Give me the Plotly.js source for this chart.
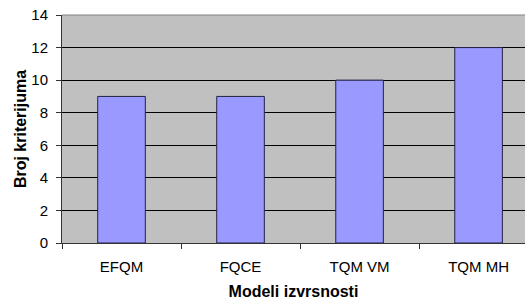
<!DOCTYPE html>
<html>
<head>
<meta charset="utf-8">
<script src="https://cdn.plot.ly/plotly-3.0.1.min.js"></script>
<style>html,body{margin:0;padding:0;background:#fff;overflow:hidden}</style>
</head>
<body>
<div id="chart" style="width:525px;height:300px"></div>
<script>
const categories = ["EFQM", "FQCE", "TQM VM", "TQM MH"];
const values = [9, 9, 10, 12];
const yTicks = [0, 2, 4, 6, 8, 10, 12, 14];

const trace = {
  type: "bar",
  x: categories,
  y: values,
  marker: {color: "#9999FF", line: {color: "#222244", width: 1}},
  hoverinfo: "skip"
};

const layout = {
  width: 525,
  height: 300,
  margin: {l: 62, r: 0, t: 15, b: 57},
  paper_bgcolor: "#ffffff",
  plot_bgcolor: "#C0C0C0",
  bargap: 0.6,
  showlegend: false,
  font: {family: "Liberation Sans, Arial, sans-serif", size: 15, color: "#000"},
  xaxis: {
    range: [-0.5, 3.39],
    type: "category",
    showgrid: false,
    showline: true,
    linecolor: "#333333",
    linewidth: 1,
    ticks: "outside",
    tickson: "boundaries",
    ticklen: 5,
    tickcolor: "#333333",
    ticklabelstandoff: 10,
    tickfont: {size: 15},
    title: {text: "<b>Modeli izvrsnosti</b>", font: {size: 16}, standoff: 11},
    fixedrange: true
  },
  yaxis: {
    range: [0, 14],
    tickvals: yTicks,
    ticktext: yTicks.map(String),
    showgrid: true,
    gridcolor: "#000000",
    gridwidth: 1,
    zeroline: false,
    showline: true,
    linecolor: "#333333",
    linewidth: 1,
    ticks: "outside",
    ticklen: 5,
    tickcolor: "#333333",
    ticklabelstandoff: 5,
    tickfont: {size: 15},
    title: {text: "<b>Broj kriterijuma</b>", font: {size: 16}, standoff: 0},
    fixedrange: true
  },
  shapes: [{
    type: "line", xref: "paper", yref: "paper", x0: 0, x1: 1, y0: 1, y1: 1,
    line: {color: "#808080", width: 1}, layer: "above"
  }]
};

Plotly.newPlot("chart", [trace], layout, {displayModeBar: false, staticPlot: true});
</script>
</body>
</html>
